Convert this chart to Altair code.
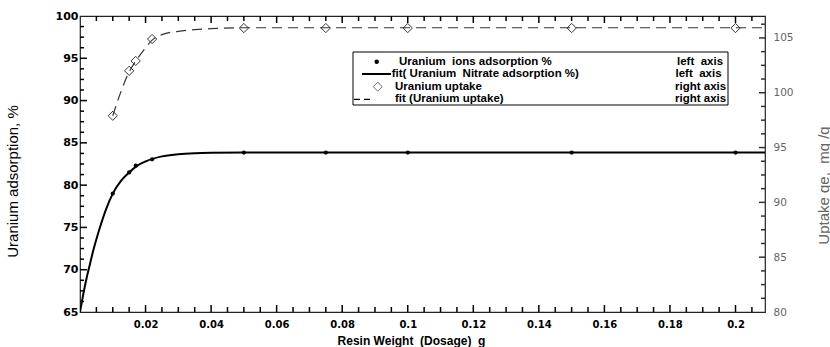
import altair as alt
import pandas as pd

# Measured adsorption data vs resin dosage
dosage = [0.01, 0.015, 0.017, 0.022, 0.05, 0.075, 0.1, 0.15, 0.2]
adsorption_pct = [79.0, 81.5, 82.3, 83.05, 83.85, 83.85, 83.85, 83.85, 83.85]
uptake_mg_g = [97.9, 102.0, 102.9, 104.9, 105.9, 105.9, 105.9, 105.9, 105.9]

# Fitted curve for adsorption % (left axis)
fit_ads_x = [0.0, 0.001, 0.002, 0.003, 0.004, 0.005, 0.006, 0.008, 0.010, 0.0125,
             0.015, 0.0175, 0.020, 0.025, 0.030, 0.035, 0.040, 0.050, 0.075, 0.100,
             0.150, 0.209]
fit_ads_y = [65.0, 67.1, 69.0, 70.6, 72.2, 73.6, 74.9, 77.2, 79.0, 80.5,
             81.5, 82.3, 82.8, 83.4, 83.65, 83.77, 83.82, 83.85, 83.85, 83.85,
             83.85, 83.85]

# Fitted curve for uptake (right axis)
fit_up_x = [0.010, 0.0125, 0.015, 0.0175, 0.020, 0.022, 0.025, 0.030, 0.035, 0.040,
            0.050, 0.100, 0.209]
fit_up_y = [97.9, 100.1, 101.9, 103.1, 104.1, 104.8, 105.3, 105.6, 105.75, 105.85,
            105.93, 105.93, 105.93]

x_labels = [0.02, 0.04, 0.06, 0.08, 0.1, 0.12, 0.14, 0.16, 0.18, 0.2]
left_labels = [65, 70, 75, 80, 85, 90, 95, 100]
right_labels = [80, 85, 90, 95, 100, 105]

W, H = 685, 296
X_DOMAIN = [0, 0.209]
L_DOMAIN = [65, 100]
R_DOMAIN = [80, 107]
NB = "\u00a0"

# Inward tick positions (minor spacing 0.005 on x, 1.25 on both y axes)
x_ticks_minor = [round(0.005 * i, 3) for i in range(1, 42) if i % 4 != 0]
x_ticks_major = [round(0.005 * i, 3) for i in range(4, 42, 4)]
l_ticks_minor = [65 + 1.25 * i for i in range(1, 28) if i % 4 != 0]
l_ticks_major = [65 + 1.25 * i for i in range(4, 28, 4)]
r_ticks_minor = [80 + 1.25 * i for i in range(1, 22) if i % 4 != 0]
r_ticks_major = [80 + 1.25 * i for i in range(4, 22, 4)]

x_axis = alt.Axis(
    values=x_labels, format=".2~f", ticks=False, tickSize=0, domain=False, grid=False,
    labelFont="DejaVu Sans", labelFontWeight="bold", labelFontSize=10, labelColor="black",
    labelPadding=7, title=f"Resin Weight{NB}{NB}(Dosage){NB}{NB}g",
    titleFont="Liberation Sans", titleFontWeight="bold", titleFontSize=12,
    titleColor="black", titleX=331, titleY=32, titleAlign="center",
    titleBaseline="alphabetic",
)
left_axis = alt.Axis(
    values=left_labels, ticks=False, tickSize=0, domain=False, grid=False,
    labelFont="DejaVu Sans", labelFontWeight="bold", labelFontSize=11, labelColor="black",
    labelPadding=2, title="Uranium adsorption, %", titleFont="Liberation Sans",
    titleFontWeight="normal", titleFontSize=15, titleColor="black", titleAngle=270,
    titleX=-68, titleY=165, titleAlign="center", titleBaseline="middle",
)
right_axis = alt.Axis(
    orient="right", values=right_labels, ticks=False, tickSize=0, domain=False, grid=False,
    labelFont="DejaVu Sans", labelFontWeight="normal", labelFontSize=10.5, labelColor="#666",
    labelPadding=8, title=f"Uptake qe,{NB}{NB}mg /g", titleFont="Liberation Sans",
    titleFontWeight="normal", titleFontSize=15, titleColor="#666", titleAngle=270,
    titleX=58, titleY=169, titleAlign="center", titleBaseline="middle",
)

xs = alt.Scale(domain=X_DOMAIN, nice=False, zero=False)
ls = alt.Scale(domain=L_DOMAIN, nice=False, zero=False)
rs = alt.Scale(domain=R_DOMAIN, nice=False, zero=False)


def X(f):
    return alt.X(f"{f}:Q", scale=xs, axis=x_axis)


def YL(f):
    return alt.Y(f"{f}:Q", scale=ls, axis=left_axis)


def YR(f):
    return alt.Y(f"{f}:Q", scale=rs, axis=right_axis)


def tick_mark(df, path, length, color, yfield):
    # custom symbol paths live in a [-1, 1] box, so a unit segment spans sqrt(size)/2 px
    return alt.Chart(df).mark_point(shape=path, size=(2 * length) ** 2, stroke=color,
                                    strokeWidth=1.5, filled=False, opacity=1).encode(
        x=X("x"), y=yfield)


pts = pd.DataFrame({"x": dosage, "v": adsorption_pct, "u": uptake_mg_g})
fit_a = pd.DataFrame({"x": fit_ads_x, "v": fit_ads_y})
fit_u = pd.DataFrame({"x": fit_up_x, "u": fit_up_y})

solid = alt.Chart(fit_a).mark_line(color="black", strokeWidth=2, interpolate="monotone",
                                   clip=True).encode(x=X("x"), y=YL("v"))
dots = alt.Chart(pts).mark_point(filled=True, color="black", size=18, opacity=1).encode(
    x=X("x"), y=YL("v"))

# Tick marks pointing into the plot on bottom, top and left edges
tick_layers = []
for vals, ln in ((x_ticks_minor, 5), (x_ticks_major, 7)):
    for edge, path in ((L_DOMAIN[0], "M0,0L0,-1"), (L_DOMAIN[1], "M0,0L0,1")):
        df = pd.DataFrame({"x": vals, "v": [edge] * len(vals)})
        tick_layers.append(tick_mark(df, path, ln, "black", YL("v")))
for vals, ln in ((l_ticks_minor, 4), (l_ticks_major, 7)):
    df = pd.DataFrame({"x": [X_DOMAIN[0]] * len(vals), "v": vals})
    tick_layers.append(tick_mark(df, "M0,0L1,0", ln, "black", YL("v")))

# Legend box
one = pd.DataFrame({"k": [0]})
legend_layers = [
    alt.Chart(one).mark_rect(fill="white", stroke="black", strokeWidth=1).encode(
        x=alt.value(273), x2=alt.value(648), y=alt.value(36), y2=alt.value(89)),
    alt.Chart(one).mark_point(filled=True, color="black", size=20, opacity=1).encode(
        x=alt.value(296.7), y=alt.value(45.7)),
    alt.Chart(one).mark_rule(color="black", strokeWidth=2).encode(
        x=alt.value(282), x2=alt.value(311), y=alt.value(58)),
    alt.Chart(one).mark_point(shape="diamond", filled=False, color="#333", size=80,
                              strokeWidth=1).encode(x=alt.value(297.7), y=alt.value(70.7)),
    alt.Chart(one).mark_rule(color="black", strokeWidth=1.2, strokeDash=[6, 4]).encode(
        x=alt.value(274), x2=alt.value(291), y=alt.value(83.3)),
]
legend_rows = [
    (f"Uranium{NB}{NB}ions adsorption %", 319, 45.7, f"left{NB}{NB}axis", 597),
    (f"fit( Uranium{NB}{NB}Nitrate adsorption %)", 311.7, 58, f"left{NB}{NB}axis", 595.5),
    ("Uranium uptake", 315, 70.7, "right axis", 595),
    ("fit (Uranium uptake)", 315, 83.3, "right axis", 595),
]
for label, lx, ly, side, sx in legend_rows:
    for txt, tx in ((label, lx), (side, sx)):
        legend_layers.append(
            alt.Chart(one).mark_text(align="left", baseline="middle", font="Liberation Sans",
                                     fontWeight="bold", fontSize=11.5, color="black",
                                     text=txt).encode(x=alt.value(tx), y=alt.value(ly)))

left = alt.layer(solid, dots, *tick_layers, *legend_layers)

dashed = alt.Chart(fit_u).mark_line(color="#333", strokeWidth=1.2, strokeDash=[10, 6],
                                    interpolate="monotone", clip=True).encode(
    x=X("x"), y=YR("u"))
diamonds = alt.Chart(pts).mark_point(shape="diamond", filled=False, color="#333", size=85,
                                     strokeWidth=1, opacity=1).encode(x=X("x"), y=YR("u"))
r_ticks = []
for vals, ln in ((r_ticks_minor, 4), (r_ticks_major, 6)):
    df = pd.DataFrame({"x": [X_DOMAIN[1]] * len(vals), "u": vals})
    r_ticks.append(tick_mark(df, "M0,0L-1,0", ln, "#333", YR("u")))

right = alt.layer(dashed, diamonds, *r_ticks)

chart = alt.layer(left, right).resolve_scale(y="independent").properties(
    width=W, height=H,
    autosize=alt.AutoSizeParams(type="none"),
    padding={"left": 80, "top": 16, "right": 65, "bottom": 35},
    background="white",
).configure_view(stroke="#222", strokeWidth=1.2)

chart.save("out.html", embed_options={"renderer": "svg", "actions": False})
